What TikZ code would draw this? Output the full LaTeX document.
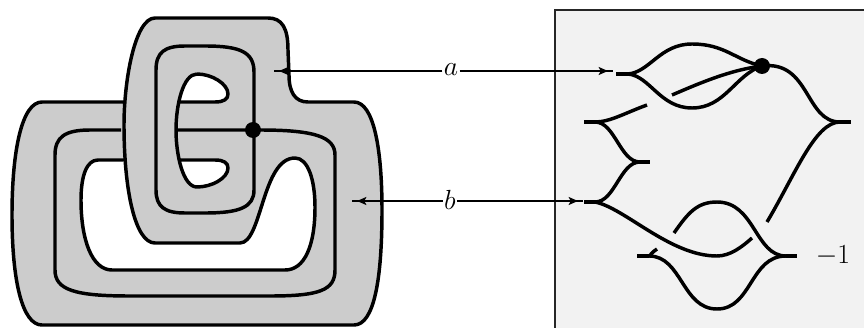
\documentclass[tikz,border=0pt]{standalone}
\usetikzlibrary{arrows.meta}
\definecolor{bandgray}{HTML}{CCCCCC}
\definecolor{panelgray}{HTML}{F2F2F2}
\tikzset{
  edgeline/.style={line width=2.6pt,line join=round,line cap=butt},
  legline/.style={line width=2.6pt,line cap=butt},
  stub/.style={line width=3.6pt,line cap=butt},
  pointer/.style={line width=1pt,-{Stealth[length=7pt,width=6pt,inset=1.5pt]}},
  tail/.style={line width=1pt},
  lab/.style={font=\fontsize{22}{26}\selectfont,inner sep=1pt},
  ball/.style={circle,fill=black,inner sep=0pt,minimum size=12pt}
}
\begin{document}
\begin{tikzpicture}[x=0.75pt,y=-0.75pt]
\useasboundingbox (0,0) rectangle (864,328);
% panel
\fill[panelgray] (555,10) rectangle (864,328);
\draw[line width=0.8pt,black!85] (864,10) -- (555,10) -- (555,328);
% gray surface
\fill[bandgray] (123,102) -- (42,102) .. controls (22,102) and (12,150) .. (12,215)
 .. controls (12,280) and (22,325) .. (42,325) -- (354,325)
 .. controls (374,325) and (382,280) .. (382,210) .. controls (382,150) and (374,102) .. (354,102)
 -- (308,102) .. controls (295,102) and (289,92) .. (289,75) -- (288,50)
 .. controls (288,28) and (282,18) .. (268,18) -- (155,18)
 .. controls (135,18) and (124,80) .. (124,125)
 .. controls (124,190) and (135,243) .. (155,243) -- (240,243)
 .. controls (262,243) and (262,158) .. (295,158)
 .. controls (308,158) and (315,180) .. (315,207)
 .. controls (315,245) and (305,270) .. (285,270) -- (112,270)
 .. controls (92,270) and (81,240) .. (81,200) .. controls (81,175) and (87,160) .. (98,160)
 -- (123,160) -- cycle;
\fill[white] (197,74) .. controls (183,74) and (176,105) .. (176,130)
 .. controls (176,155) and (183,187) .. (197,187)
 .. controls (212,187) and (228,178) .. (228,168) .. controls (228,163) and (224,160) .. (215,160)
 -- (178,160) -- (178,102) -- (215,102)
 .. controls (224,102) and (228,99) .. (228,94) .. controls (228,84) and (212,74) .. (197,74) -- cycle;
% strokes of the surface
\draw[edgeline] (123,102) -- (42,102) .. controls (22,102) and (12,150) .. (12,215)
 .. controls (12,280) and (22,325) .. (42,325) -- (354,325)
 .. controls (374,325) and (382,280) .. (382,210) .. controls (382,150) and (374,102) .. (354,102)
 -- (308,102) .. controls (295,102) and (289,92) .. (289,75) -- (288,50)
 .. controls (288,28) and (282,18) .. (268,18) -- (155,18)
 .. controls (135,18) and (124,80) .. (124,125)
 .. controls (124,190) and (135,243) .. (155,243) -- (240,243)
 .. controls (262,243) and (262,158) .. (295,158)
 .. controls (308,158) and (315,180) .. (315,207)
 .. controls (315,245) and (305,270) .. (285,270) -- (112,270)
 .. controls (92,270) and (81,240) .. (81,200) .. controls (81,175) and (87,160) .. (98,160)
 -- (123,160);
% middle loop
\draw[edgeline] (121,130) -- (90,130) .. controls (65,130) and (55,137) .. (55,155)
 -- (55,270) .. controls (55,290) and (75,296) .. (130,296) -- (270,296)
 .. controls (320,296) and (335,290) .. (335,270) -- (335,155)
 .. controls (335,137) and (315,130) .. (260,130) -- (175,130);
% inner loop
\draw[edgeline] (156,70) .. controls (156,52) and (165,46) .. (185,46) -- (205,46)
 .. controls (240,46) and (254,52) .. (254,72) -- (254,190)
 .. controls (254,207) and (240,213) .. (205,213) -- (185,213)
 .. controls (165,213) and (156,207) .. (156,190) -- cycle;
% eye
\draw[edgeline] (197,74) .. controls (183,74) and (176,105) .. (176,130)
 .. controls (176,155) and (183,187) .. (197,187)
 .. controls (212,187) and (228,178) .. (228,168) .. controls (228,163) and (224,160) .. (215,160) -- (178,160);
\draw[edgeline] (178,102) -- (215,102)
 .. controls (224,102) and (228,99) .. (228,94) .. controls (228,84) and (212,74) .. (197,74);
\node[ball] (lball) at (253,130) {};
% legendrian front
\node[ball] (rball) at (762,66) {};
\coordinate (c1) at (628,74);
\coordinate (c2) at (595,122);
\coordinate (c3) at (640,162);
\coordinate (c4) at (595,202);
\coordinate (c5) at (840,122);
\coordinate (c6) at (786,256);
\coordinate (c7) at (649,256);
\draw[stub] (616,74) -- (c1);
\draw[stub] (584,122) -- (c2);
\draw[stub] (c3) -- (650,162);
\draw[stub] (584,202) -- (c4);
\draw[stub] (c5) -- (851,122);
\draw[stub] (c6) -- (797,256);
\draw[stub] (637,256) -- (c7);
\draw[legline] (c1) .. controls (650,72) and (660,44) .. (692,44)
 .. controls (725,44) and (735,60) .. (rball.center);
\draw[legline] (c1) .. controls (650,76) and (660,108) .. (692,108)
 .. controls (725,108) and (735,75) .. (rball.center);
\draw[legline] (672,95) .. controls (700,83) and (730,70) .. (rball.center);
\draw[legline] (rball.center) .. controls (810,60) and (805,122) .. (c5);
\draw[legline] (c2) .. controls (610,122) and (625,113) .. (647,105);
\draw[legline] (c2) .. controls (615,122) and (620,162) .. (c3);
\draw[legline] (c3) .. controls (620,162) and (615,202) .. (c4);
\draw[legline] (c4) .. controls (625,208) and (670,256) .. (717,256)
 .. controls (730,256) and (742,247) .. (752,238);
\draw[legline] (c5) .. controls (815,122) and (795,175) .. (767,222);
\draw[legline] (674,233) .. controls (688,213) and (697,202) .. (717,202)
 .. controls (755,202) and (755,256) .. (c6);
\draw[legline] (c6) .. controls (750,256) and (752,309) .. (717,309)
 .. controls (682,309) and (682,256) .. (c7);
\draw[legline] (c7) .. controls (650,256) and (652,252) .. (657,249);
\node[lab] (tm) at (833,256) {$-1$};
% labels and pointers
\node[lab] (la) at (451,70) {$a$};
\node[lab] (lb) at (450,200) {$b$};
\coordinate (a1) at (279,71);
\coordinate (a1s) at (282,71);
\coordinate (a1e) at (274,71);
\coordinate (a2) at (608,71);
\coordinate (a2s) at (605,71);
\coordinate (a2e) at (613,71);
\coordinate (b1) at (357,201);
\coordinate (b1s) at (360,201);
\coordinate (b1e) at (352,201);
\coordinate (b2) at (578,201);
\coordinate (b2s) at (575,201);
\coordinate (b2e) at (583,201);
\draw[pointer] (la.west |- a1) -- (a1);
\draw[tail] (a1s) -- (a1e);
\draw[pointer] (la.east |- a2) -- (a2);
\draw[tail] (a2s) -- (a2e);
\draw[pointer] (lb.west |- b1) -- (b1);
\draw[tail] (b1s) -- (b1e);
\draw[pointer] (lb.east |- b2) -- (b2);
\draw[tail] (b2s) -- (b2e);
\end{tikzpicture}
\end{document}
